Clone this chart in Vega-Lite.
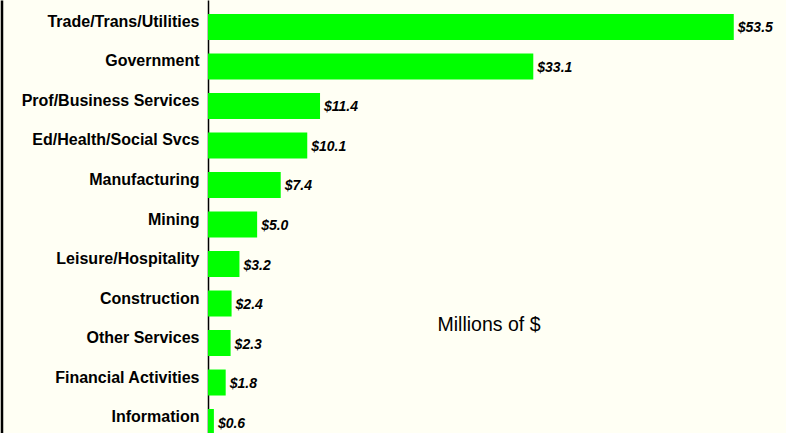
{
  "$schema": "https://vega.github.io/schema/vega-lite/v6.json",
  "autosize": {"type": "none"},
  "width": 570,
  "height": 449,
  "padding": {"left": 208, "top": 0, "right": 8, "bottom": 0},
  "background": "#FFFFF4",
  "config": {
    "view": {"stroke": null},
    "font": "Liberation Sans"
  },
  "data": {
    "values": [
      {"industry": "Trade/Trans/Utilities", "value": 53.5},
      {"industry": "Government", "value": 33.1},
      {"industry": "Prof/Business Services", "value": 11.4},
      {"industry": "Ed/Health/Social Svcs", "value": 10.1},
      {"industry": "Manufacturing", "value": 7.4},
      {"industry": "Mining", "value": 5.0},
      {"industry": "Leisure/Hospitality", "value": 3.2},
      {"industry": "Construction", "value": 2.4},
      {"industry": "Other Services", "value": 2.3},
      {"industry": "Financial Activities", "value": 1.8},
      {"industry": "Information", "value": 0.6}
    ]
  },
  "encoding": {
    "y": {
      "field": "industry",
      "type": "nominal",
      "sort": "-x",
      "scale": {"paddingInner": 0.342, "paddingOuter": 0.354}
    },
    "x": {
      "field": "value",
      "type": "quantitative",
      "scale": {"domain": [0, 58], "nice": false, "zero": true}
    }
  },
  "layer": [
    {
      "mark": {"type": "bar", "color": "#00FF00"},
      "encoding": {
        "y": {
          "field": "industry",
          "type": "nominal",
          "sort": "-x",
          "axis": {
            "title": null,
            "ticks": false,
            "labelPadding": 9,
            "labelFontSize": 16,
            "labelFontWeight": "bold",
            "labelColor": "#000000",
            "labelOffset": -5,
            "labelBaseline": "middle",
            "domainColor": "#000000",
            "domainWidth": 1.5,
            "labelLimit": 300
          }
        },
        "x": {
          "field": "value",
          "type": "quantitative",
          "axis": {
            "title": "Millions of $",
            "labels": false,
            "ticks": false,
            "domain": false,
            "grid": false,
            "titleFontSize": 19.5,
            "titleFontWeight": "normal",
            "titleColor": "#000000",
            "titleX": 280.5,
            "titleY": -124.5,
            "titleBaseline": "middle",
            "titleAlign": "center"
          }
        }
      }
    },
    {
      "mark": {"type": "text", "align": "left", "baseline": "middle", "dx": 4, "dy": 1.5, "fontSize": 14, "fontWeight": "bold", "fontStyle": "italic", "color": "#000000"},
      "encoding": {
        "text": {"field": "value", "type": "quantitative", "format": "$.1f"},
        "y": {
          "field": "industry",
          "type": "nominal",
          "sort": "-x",
          "axis": {
            "orient": "left",
            "offset": 206.5,
            "title": null,
            "labels": false,
            "ticks": false,
            "domainColor": "#000000",
            "domainWidth": 2.5
          }
        }
      }
    }
  ],
  "resolve": {"axis": {"y": "independent"}}
}
